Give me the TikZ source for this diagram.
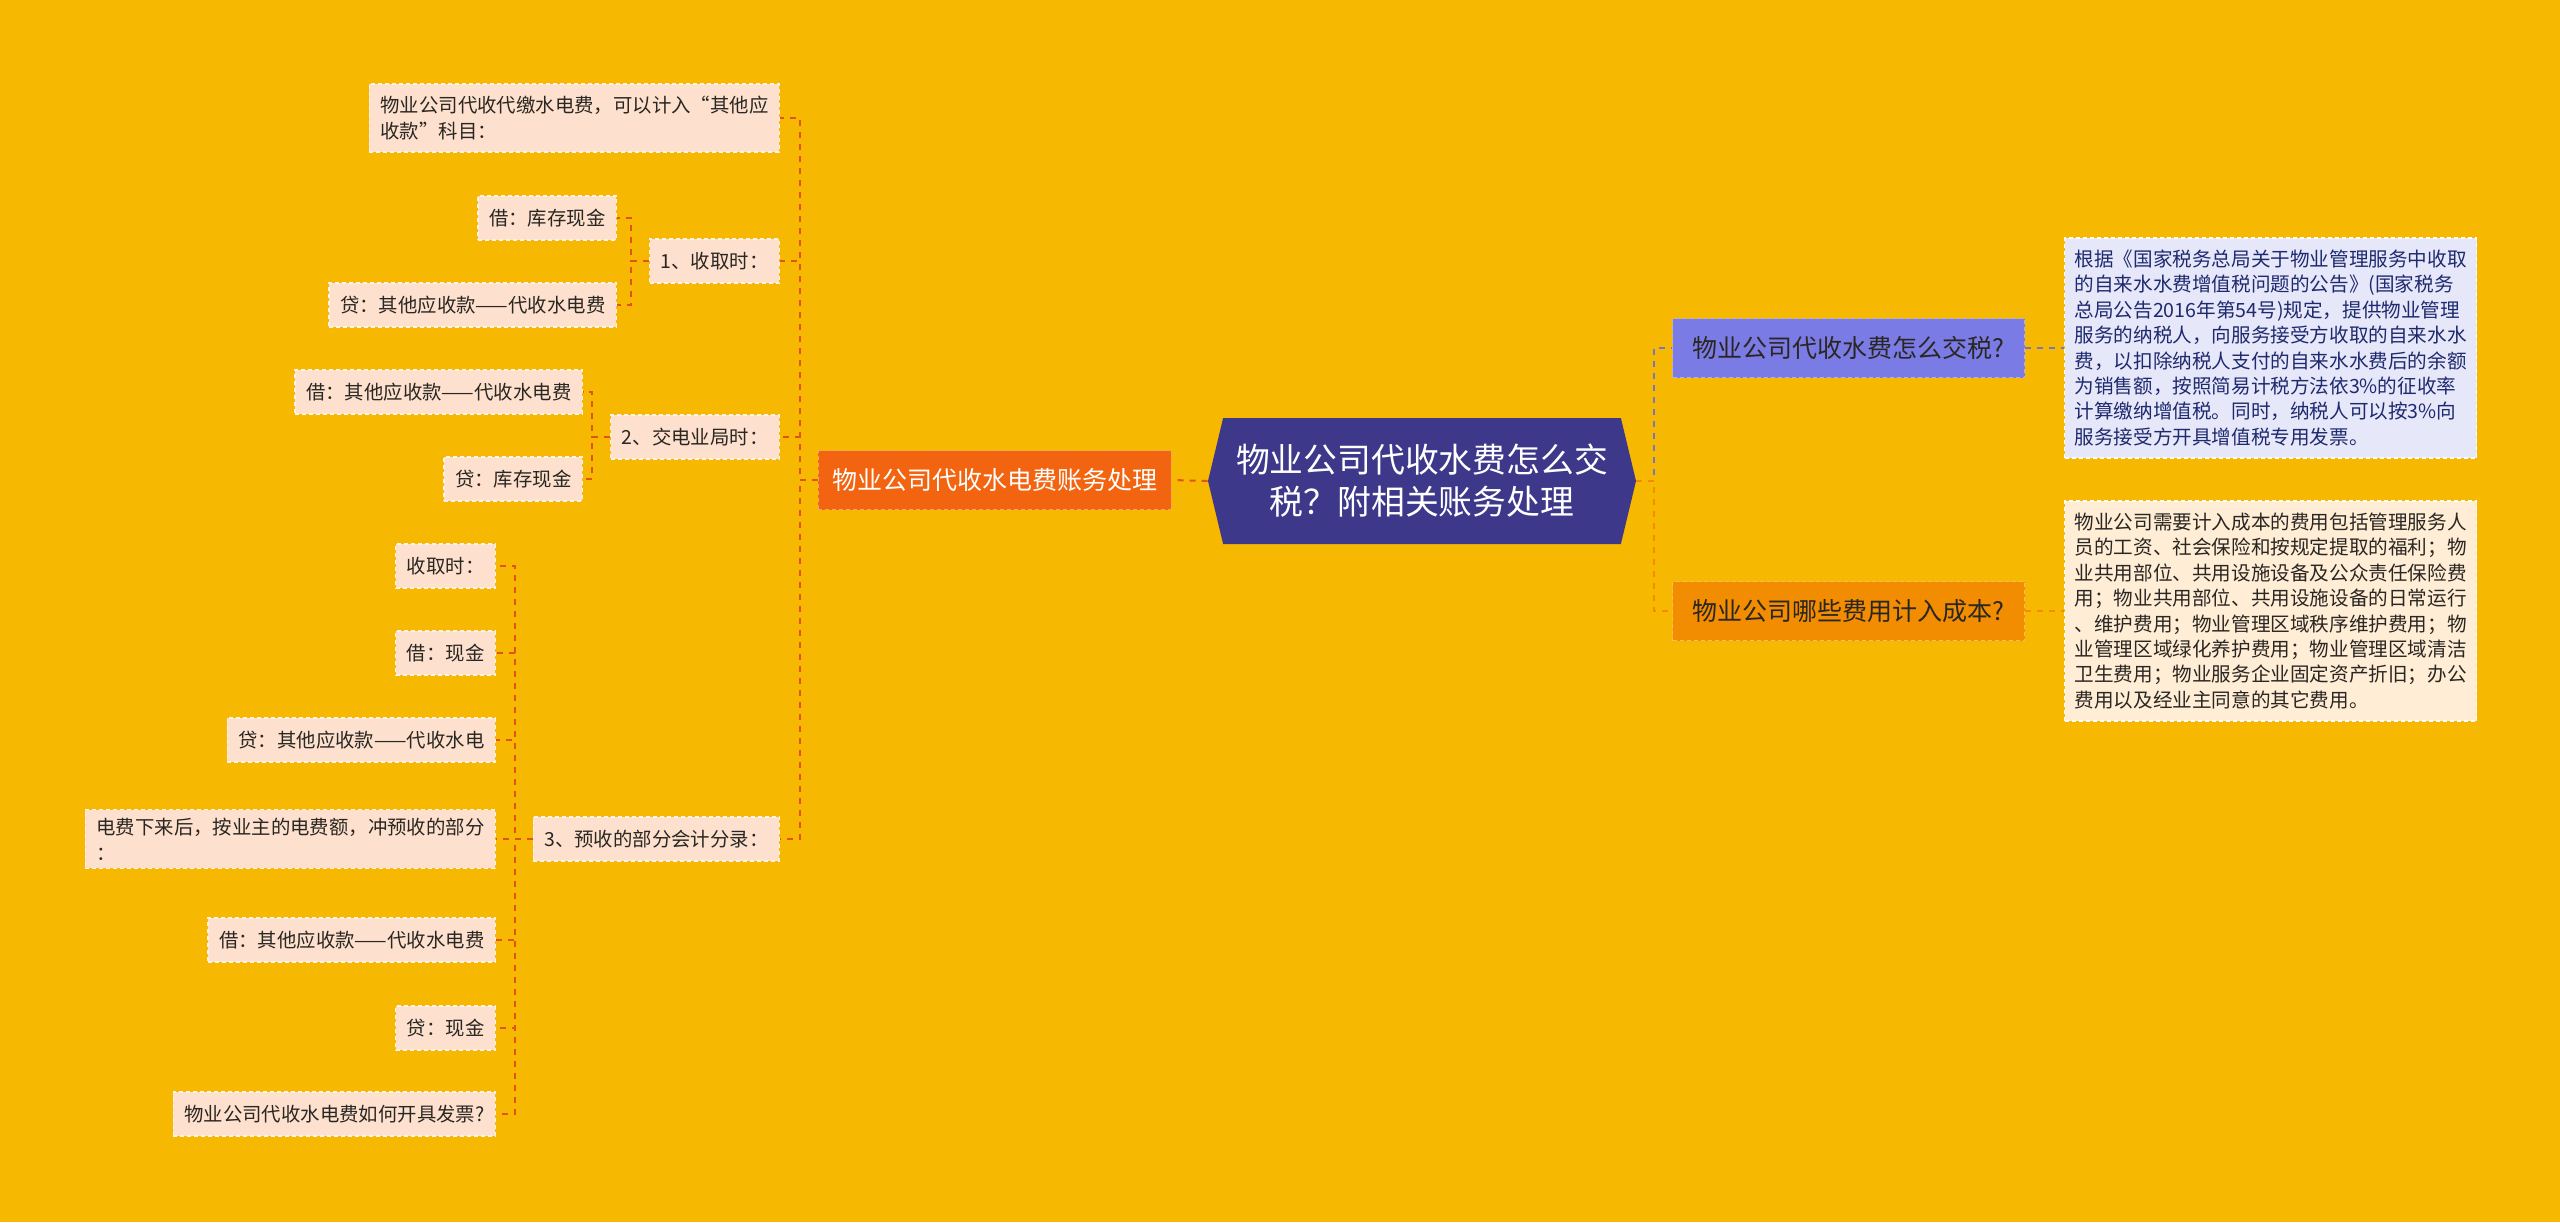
\documentclass[tikz,border=0pt]{standalone}
\usepackage{fontspec}
\setmainfont{Noto Sans CJK SC}
\usetikzlibrary{positioning,shapes.symbols}
\definecolor{Bg}{HTML}{F6B800}
\definecolor{Indigo}{HTML}{3D3889}
\definecolor{Flame}{HTML}{F2640F}
\definecolor{Violet}{HTML}{7B7BE6}
\definecolor{Tangerine}{HTML}{F28C00}
\definecolor{Peach}{HTML}{FDE1CE}
\definecolor{Lilac}{HTML}{E7E7FA}
\definecolor{Cream}{HTML}{FFEDD6}
\definecolor{Rust}{HTML}{E0541A}
\definecolor{Ink}{HTML}{2A2622}
\definecolor{Navy}{HTML}{1E2A6E}
\definecolor{Slate}{HTML}{7674C4}
\tikzset{
 base/.style={font=\fontsize{9.7}{13}\selectfont,inner xsep=5.5pt,inner ysep=4pt,minimum height=22pt,dash pattern=on 2pt off 1.5pt,line width=.6pt},
 leaf/.style={base,fill=Peach,draw=white!60!Peach,text=Ink,align=left,anchor=east},
 note/.style={base,font=\fontsize{9.8}{12.7}\selectfont,align=left,anchor=west,inner xsep=5pt,inner ysep=6pt},
 topic/.style={base,font=\fontsize{12.5}{15}\selectfont,minimum height=29.5pt,inner xsep=7pt},
 rootbox/.style={shape=signal,signal to=east and west,signal pointer angle=153,fill=Indigo,text=white,
   font=\fontsize{16.9}{21}\selectfont,align=center,minimum width=214pt,minimum height=63pt,inner xsep=2pt},
 link/.style={draw=Rust,line width=1pt,dash pattern=on 3pt off 3pt}
}
\begin{document}
\begin{tikzpicture}[x=0.5pt,y=-0.5pt]
\fill[Bg] (0,0) rectangle (2560,1222);
\useasboundingbox (0,0) rectangle (2560,1222);
% centre and first level
\node[rootbox] (root) at (1422,481) {物业公司代收水费怎么交\\税？附相关账务处理};
\node[topic,fill=Flame,draw=Flame!60!white,text=white,anchor=east] (acct) at (1172,480) {物业公司代收水电费账务处理};
\node[topic,fill=Violet,draw=Violet!60!white,text=Ink,anchor=west,minimum width=176pt] (tax) at (1672,348) {物业公司代收水费怎么交税?};
\node[topic,fill=Tangerine,draw=Tangerine!60!white,text=Ink,anchor=west,minimum width=176pt] (cost) at (1672,611) {物业公司哪些费用计入成本?};
\node[note,fill=Lilac,draw=white,text=Navy] (taxtxt) at (2064,348) {根据《国家税务总局关于物业管理服务中收取\\的自来水水费增值税问题的公告》(国家税务\\总局公告2016年第54号)规定，提供物业管理\\服务的纳税人，向服务接受方收取的自来水水\\费，以扣除纳税人支付的自来水水费后的余额\\为销售额，按照简易计税方法依3\%的征收率\\计算缴纳增值税。同时，纳税人可以按3\%向\\服务接受方开具增值税专用发票。};
\node[note,fill=Cream,draw=white,text=Ink] (costtxt) at (2064,611) {物业公司需要计入成本的费用包括管理服务人\\员的工资、社会保险和按规定提取的福利；物\\业共用部位、共用设施设备及公众责任保险费\\用；物业共用部位、共用设施设备的日常运行\\、维护费用；物业管理区域秩序维护费用；物\\业管理区域绿化养护费用；物业管理区域清洁\\卫生费用；物业服务企业固定资产折旧；办公\\费用以及经业主同意的其它费用。};
% left branch
\node[leaf,inner ysep=6pt] (intro) at (780,118) {物业公司代收代缴水电费，可以计入“其他应\\收款”科目：};
\node[leaf] (get) at (780,261) {1、收取时：};
\node[leaf] (pay) at (780,437) {2、交电业局时：};
\node[leaf] (pre) at (780,839) {3、预收的部分会计分录：};
\node[leaf] (get1) at (617,218) {借：库存现金};
\node[leaf] (get2) at (617,305) {贷：其他应收款——代收水电费};
\node[leaf] (pay1) at (583,392) {借：其他应收款——代收水电费};
\node[leaf] (pay2) at (583,479) {贷：库存现金};
\foreach \n/\y/\t in {pre1/566/{收取时：},pre2/653/{借：现金},pre3/740/{贷：其他应收款——代收水电},
  pre4/839/{电费下来后，按业主的电费额，冲预收的部分\\：},pre5/940/{借：其他应收款——代收水电费},
  pre6/1028/{贷：现金},pre7/1114/{物业公司代收水电费如何开具发票?}}
  \node[leaf] (\n) at (496,\y) {\t};
% connectors
\draw[link] (root.west) -- (acct.east);
\foreach \c in {intro,get,pay,pre} \draw[link] (acct.west) -- ++(-18,0) |- (\c.east);
\foreach \c in {get1,get2} \draw[link] (get.west) -- ++(-18,0) |- (\c.east);
\foreach \c in {pay1,pay2} \draw[link] (pay.west) -- ++(-18,0) |- (\c.east);
\foreach \c in {pre1,pre2,pre3,pre4,pre5,pre6,pre7} \draw[link] (pre.west) -- ++(-18,0) |- (\c.east);
\draw[link,draw=Slate] (root.east) -- ++(18,0) |- (tax.west);
\draw[link,draw=Tangerine] (root.east) -- ++(18,0) |- (cost.west);
\draw[link,draw=Slate] (tax.east) -- (taxtxt.west);
\draw[link,draw=Tangerine] (cost.east) -- (costtxt.west);
\end{tikzpicture}
\end{document}
